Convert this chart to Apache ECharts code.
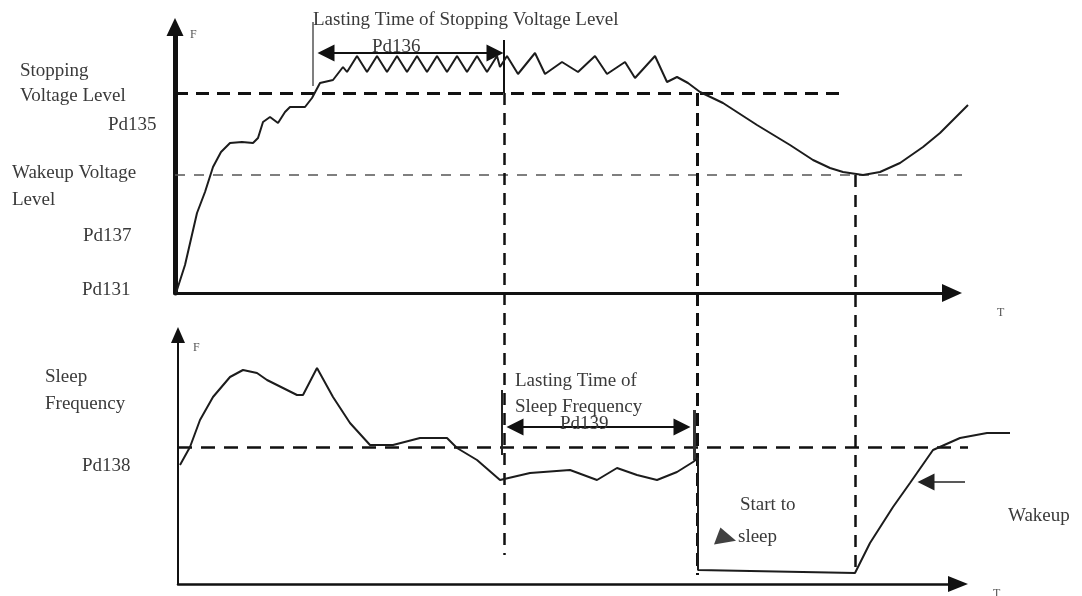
<!DOCTYPE html>
<html>
<head>
<meta charset="utf-8">
<script src="https://cdn.jsdelivr.net/npm/echarts@6/dist/echarts.min.js"></script>
<style>html,body{margin:0;padding:0;background:#fff}#c{width:1082px;height:596px}</style>
</head>
<body>
<div id="c"></div>
<script>
// ---- Data (time offset T, level F) ----
const topT = [0,9,21,29,37,45,54,66,77,82,87,94,102,109,114,129,136,144,157,167,171,181,191,201,211,221,231,241,251,261,271,281,291,301,311,321,324,331,342,359,369,386,402,419,431,449,459,479,491,501,512,524,547,581,614,637,654,667,687,704,724,747,764,792];
const topF = [0,28,80,101,126,141,150,151,150,155,171,176,170,181,186,186,195,210,213,226,221,237,221,237,221,237,221,237,221,237,221,237,221,237,221,237,226,237,219,240,219,231,221,237,219,231,215,237,211,216,210,201,190,168,148,133,125,121,118,121,130,146,160,188];
const botT = [4,14,24,37,54,67,81,91,107,121,127,141,157,174,194,217,244,271,281,301,324,354,394,421,441,461,481,501,517,522,522,679,694,717,734,757,784,811,834];
const botF = [119,137,164,187,207,214,211,204,196,189,189,216,187,161,139,139,146,146,136,124,104,111,114,104,116,109,104,112,122,126,14,11,41,77,101,134,146,151,151];

const stopLevel = 200, wakeLevel = 118, sleepLevel = 137;
const stopLevelT = [-1, 667], wakeLevelT = [-1, 786], sleepLevelT = [2, 792];

// overlay coordinates (T offset, vertical position from top)
const v1Solid = [[328,40],[328,93]];
const v1Dash = [[328,93],[328,555]];
const v2Dash = [[521,93],[521,575]];
const v3Dash = [[679,175],[679,575]];
const tickStop = [[137,22],[137,86]];
const arrowPd136 = [[150,53],[319,53]];
const tickSleep1 = [[326,390],[326,455]];
const tickSleep2 = [[518,410],[518,460]];
const arrowPd139 = [[339,427],[506,427]];
const arrowWake = [[789,482],[750,482]];
const sleepMarker = [549,536];

const labels = [
  ["Lasting Time of Stopping Voltage Level", 313, 20, 19],
  ["Pd136", 372, 47, 19],
  ["Stopping", 20, 71, 19],
  ["Voltage Level", 20, 96, 19],
  ["Pd135", 108, 125, 19],
  ["Wakeup Voltage", 12, 173, 19],
  ["Level", 12, 200, 19],
  ["Pd137", 83, 236, 19],
  ["Pd131", 82, 290, 19],
  ["F", 190, 35, 12],
  ["T", 997, 313, 12],
  ["F", 193, 348, 12],
  ["Sleep", 45, 377, 19],
  ["Frequency", 45, 404, 19],
  ["Pd138", 82, 466, 19],
  ["Lasting Time of", 515, 381, 19],
  ["Sleep Frequency", 515, 407, 19],
  ["Pd139", 560, 424, 19],
  ["Start to", 740, 505, 19],
  ["sleep", 738, 537, 19],
  ["Wakeup", 1008, 516, 19],
  ["T", 993, 594, 12]
];

const zip = (a, b) => a.map((v, i) => [v, b[i]]);
const ink = '#1c1c1c';

function seg(coords, width, type, color) {
  return { coords: coords, lineStyle: { width: width, type: type || 'solid', color: color || ink, opacity: 1 } };
}

const hidden = { show: false };
const axisBase = { type: 'value', axisTick: hidden, axisLabel: hidden, splitLine: hidden };

const option = {
  animation: false,
  backgroundColor: '#fff',
  grid: [
    { left: 175, right: 60, top: 27, bottom: 303 },   // 0 top plot
    { left: 178, right: 60, top: 335, bottom: 12 },   // 1 bottom plot
    { left: 176, right: 130, top: 0, bottom: 0 },     // 2 overlay
    { left: 175, right: 130, top: 27, bottom: 303 },  // 3 top T axis
    { left: 178, right: 124, top: 335, bottom: 12 }   // 4 bottom T axis
  ],
  xAxis: [
    Object.assign({}, axisBase, { gridIndex: 0, min: -1, max: 846, axisLine: hidden }),
    Object.assign({}, axisBase, { gridIndex: 1, min: 2, max: 846, axisLine: hidden }),
    Object.assign({}, axisBase, { gridIndex: 2, min: 0, max: 776, show: false }),
    Object.assign({}, axisBase, { gridIndex: 3, min: -1, max: 776,
      axisLine: { onZero: false, symbol: ['none', 'triangle'], symbolSize: [18, 20], lineStyle: { color: '#111', width: 3 } } }),
    Object.assign({}, axisBase, { gridIndex: 4, min: 2, max: 782,
      axisLine: { onZero: false, symbol: ['none', 'triangle'], symbolSize: [16, 20], lineStyle: { color: '#111', width: 2.5 } } })
  ],
  yAxis: [
    Object.assign({}, axisBase, { gridIndex: 0, min: 0, max: 266,
      axisLine: { show: true, onZero: false, symbol: ['none', 'triangle'], symbolSize: [17, 18], lineStyle: { color: '#111', width: 5 } } }),
    Object.assign({}, axisBase, { gridIndex: 1, min: 0, max: 249,
      axisLine: { show: true, onZero: false, symbol: ['none', 'triangle'], symbolSize: [14, 16], lineStyle: { color: '#111', width: 2 } } }),
    Object.assign({}, axisBase, { gridIndex: 2, min: 0, max: 596, inverse: true, show: false }),
    Object.assign({}, axisBase, { gridIndex: 3, min: 0, max: 266, show: false }),
    Object.assign({}, axisBase, { gridIndex: 4, min: 0, max: 249, show: false })
  ],
  series: [
    { type: 'lines', coordinateSystem: 'cartesian2d', xAxisIndex: 0, yAxisIndex: 0, clip: false, silent: true,
      data: [
        seg([[stopLevelT[0], stopLevel], [stopLevelT[1], stopLevel]], 3, [13, 8], '#111'),
        seg([[wakeLevelT[0], wakeLevel], [wakeLevelT[1], wakeLevel]], 1.6, [10, 9], '#555')
      ] },
    { type: 'lines', coordinateSystem: 'cartesian2d', xAxisIndex: 1, yAxisIndex: 1, clip: false, silent: true,
      data: [ seg([[sleepLevelT[0], sleepLevel], [sleepLevelT[1], sleepLevel]], 2.5, [14, 9], '#111') ] },
    { type: 'line', xAxisIndex: 0, yAxisIndex: 0, data: zip(topT, topF), symbol: 'none', clip: false,
      lineStyle: { color: ink, width: 2 } },
    { type: 'line', xAxisIndex: 1, yAxisIndex: 1, data: zip(botT, botF), symbol: 'none', clip: false,
      lineStyle: { color: ink, width: 2 } },
    { type: 'lines', coordinateSystem: 'cartesian2d', xAxisIndex: 2, yAxisIndex: 2, clip: false, silent: true,
      data: [
        seg(v1Solid, 2, 'solid', '#111'),
        seg(v1Dash, 2.5, [12, 8], '#111'),
        seg(v2Dash, 3, [13, 7], '#111'),
        seg(v3Dash, 2.5, [12, 8], '#111'),
        seg(tickStop, 1.5, 'solid', '#555'),
        seg(tickSleep1, 2, 'solid', '#222'),
        seg(tickSleep2, 3, 'solid', '#333')
      ] },
    { type: 'lines', coordinateSystem: 'cartesian2d', xAxisIndex: 2, yAxisIndex: 2, clip: false, silent: true,
      symbol: ['triangle', 'triangle'], symbolSize: 17,
      data: [ seg(arrowPd136, 2, 'solid', '#111'), seg(arrowPd139, 2, 'solid', '#111') ] },
    { type: 'lines', coordinateSystem: 'cartesian2d', xAxisIndex: 2, yAxisIndex: 2, clip: false, silent: true,
      symbol: ['none', 'triangle'], symbolSize: 17,
      data: [ seg(arrowWake, 1.5, 'solid', '#222') ] },
    { type: 'scatter', xAxisIndex: 2, yAxisIndex: 2, clip: false, silent: true,
      data: [sleepMarker], symbol: 'path://M7,0 L0,18 L24,14 Z', symbolSize: [22, 17],
      itemStyle: { color: '#111' } }
  ],
  graphic: labels.map(l => ({
    type: 'text', x: l[1], y: l[2], silent: true, z: 100,
    style: { text: l[0], font: l[3] + 'px "Liberation Serif", "Times New Roman", serif', fill: l[3] < 15 ? '#555' : '#3a3a3a', verticalAlign: 'middle' }
  }))
};

const chart = echarts.init(document.getElementById('c'), null, { renderer: 'canvas' });
chart.setOption(option);
</script>
</body>
</html>
